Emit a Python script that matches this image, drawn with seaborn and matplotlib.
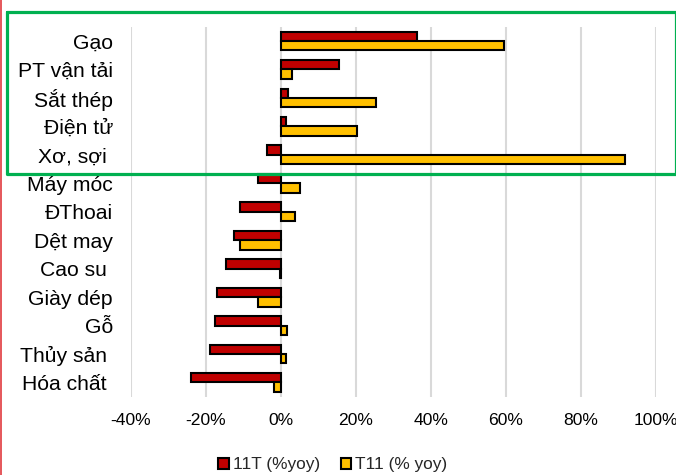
import numpy as np
import pandas as pd
import matplotlib
matplotlib.use("Agg")
import matplotlib.pyplot as plt
import seaborn as sns
from matplotlib.lines import Line2D
from matplotlib.patches import Patch

# data (% yoy)
categories = ['Gạo', 'PT vận tải', 'Sắt thép', 'Điện tử', 'Xơ, sợi ', 'Máy móc', 'ĐThoai',
              'Dệt may', 'Cao su ', 'Giày dép', 'Gỗ', 'Thủy sản ', 'Hóa chất ']
s1_name = '11T (%yoy)'
s2_name = 'T11 (% yoy)'
s1_values = [36.3, 15.6, 1.8, 1.3, -3.6, -6.2, -10.9, -12.5, -14.7, -17.1, -17.5, -18.9, -23.9]
s2_values = [59.6, 2.9, 25.5, 20.4, 91.9, 5.1, 3.9, -11.0, -0.3, -6.2, 1.6, 1.3, -1.7]
x_ticks = [-40, -20, 0, 20, 40, 60, 80, 100]

df = pd.DataFrame({
    'cat': categories * 2,
    'series': [s1_name] * len(categories) + [s2_name] * len(categories),
    'value': s1_values + s2_values,
})

sns.set_style('white')
plt.rcParams['font.family'] = ['Liberation Sans', 'DejaVu Sans']

colors = {s1_name: '#C00000', s2_name: '#FFC000'}

fig = plt.figure(figsize=(6.76, 4.75), dpi=100)
ax = fig.add_axes([131 / 676, 1 - 396.7 / 475, (655.5 - 131) / 676, (396.7 - 26.8) / 475])

sns.barplot(data=df, x='value', y='cat', hue='series', order=categories,
            hue_order=[s1_name, s2_name], palette=colors, orient='h', saturation=1,
            width=0.66, edgecolor='black', linewidth=1.5, ax=ax, legend=False)

ax.set_xlim(-40, 100)
ax.set_xticks(x_ticks)
ax.set_xticklabels([f'{t}%' for t in x_ticks])
ax.grid(axis='x', color='#d9d9d9', linewidth=1.5)
ax.set_axisbelow(True)
for sp in ax.spines.values():
    sp.set_visible(False)
ax.tick_params(axis='y', length=0, pad=13, labelsize=15.2, colors='black')
ax.tick_params(axis='x', length=0, pad=11.5, labelsize=12.6, colors='black')
ax.set_xlabel('')
ax.set_ylabel('')

handles = [Patch(facecolor=colors[s], edgecolor='black', linewidth=1.5) for s in [s1_name, s2_name]]
fig.legend(handles, [s1_name, s2_name], loc='center', bbox_to_anchor=(333 / 676, 1 - 465 / 475),
           ncol=2, frameon=False, fontsize=12.4, handlelength=0.6, handleheight=0.6,
           handletextpad=0.25, columnspacing=1.2, borderaxespad=0)

# green highlight box and red left edge line
fig.add_artist(Line2D([6.5 / 676, 6.5 / 676, 1.0, 1.0, 6.5 / 676],
                      [1 - 11.5 / 475, 1 - 174 / 475, 1 - 174 / 475, 1 - 11.5 / 475, 1 - 11.5 / 475],
                      color='#00B050', linewidth=2.3))
fig.add_artist(Line2D([1 / 676, 1 / 676], [0, 1], color='#E0393E', linewidth=1.2))

fig.savefig('out.png', dpi=100)
